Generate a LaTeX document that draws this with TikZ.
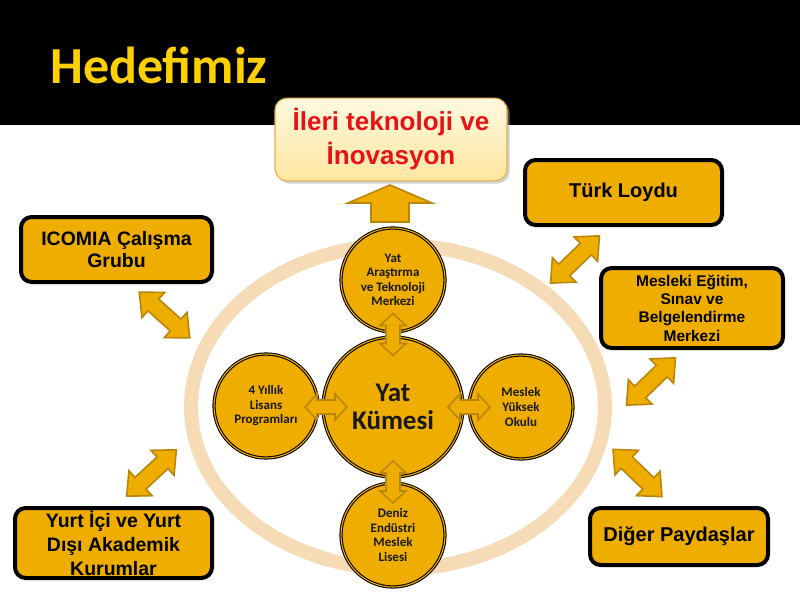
\documentclass[tikz,border=0pt]{standalone}
\usepackage{fontspec}
\setmainfont{Liberation Sans}
\newfontfamily\carl{Carlito}
\usetikzlibrary{calc,shadows,shapes.geometric}
\definecolor{gold}{RGB}{239,173,0}
\definecolor{arrbd}{RGB}{184,134,11}
\definecolor{ringc}{RGB}{246,220,182}
\definecolor{titlec}{RGB}{255,208,0}
\definecolor{topred}{RGB}{232,18,22}
\definecolor{creamA}{RGB}{255,249,224}
\definecolor{creamB}{RGB}{255,230,160}
\definecolor{creamBd}{RGB}{228,176,70}
\newcommand\dblarrow[6]{%
  \begin{scope}[shift={(#1)},rotate=#2]
    \pgfmathsetmacro\arrLa{#3/2}\pgfmathsetmacro\arrLb{#3/2-#6}
    \draw[blockarrow] (-\arrLa,0) -- (-\arrLb,#5) -- (-\arrLb,#4) -- (\arrLb,#4) -- (\arrLb,#5) -- (\arrLa,0)
      -- (\arrLb,-#5) -- (\arrLb,-#4) -- (-\arrLb,-#4) -- (-\arrLb,-#5) -- cycle;
  \end{scope}}
\tikzset{
  outerbox/.style={rectangle, rounded corners=8pt, fill=gold, draw=black, line width=3pt, inner sep=1pt, align=center, text=black},
  circ/.style={circle, fill=gold, draw=black, line width=0.8pt, double=gold, double distance=0.8pt, inner sep=0pt, align=center, text=black!90},
  smallc/.style={circ, minimum size=78pt, font=\carl\bfseries\fontsize{9.75pt}{10.9pt}\selectfont},
  blockarrow/.style={fill=gold, draw=arrbd, line width=1.2pt, line join=miter},
}
\begin{document}
\begin{tikzpicture}[x=0.75pt,y=-0.75pt]
\useasboundingbox (0,0) rectangle (800,600);
\fill[white] (0,0) rectangle (800,600);
\fill[black] (0,0) rectangle (800,125);
\node[anchor=base west, inner sep=0pt, text=titlec, font=\carl\bfseries\fontsize{39pt}{42pt}\selectfont] (title) at (50,83) {Hedefimiz};

% ring
\node[ellipse, draw=ringc, line width=10.5pt, minimum width=310.5pt, minimum height=243pt, inner sep=0pt] (ring) at (398,407) {};

% top box
\node[rectangle, rounded corners=9pt, top color=creamA, bottom color=creamB, draw=creamBd, line width=0.8pt,
      drop shadow={shadow xshift=2pt, shadow yshift=-2pt, fill=black!35},
      minimum width=174pt, minimum height=62pt, align=center, text=topred,
      font=\bfseries\fontsize{19.5pt}{25.5pt}\selectfont] (ileri) at (391,139.5) {İleri teknoloji ve\\İnovasyon};

% up arrow
\coordinate (up) at (390,203);
\begin{scope}[shift={(up)}]
  \draw[blockarrow] (0,-18) -- (42,0) -- (19,0) -- (19,19) -- (-19,19) -- (-19,0) -- (-42,0) -- cycle;
\end{scope}

% outer boxes
\node[outerbox, minimum width=147.75pt, minimum height=48.75pt, font=\bfseries\fontsize{15pt}{18pt}\selectfont] (turk) at (623.5,192.5) {Türk Loydu};
\node[outerbox, minimum width=136.5pt, minimum height=60pt, font=\bfseries\fontsize{11.6pt}{13.7pt}\selectfont] (mesleki) at (692,308) {Mesleki Eğitim,\\Sınav ve\\Belgelendirme\\Merkezi};
\node[outerbox, minimum width=143.25pt, minimum height=48.75pt, font=\bfseries\fontsize{14.6pt}{16.5pt}\selectfont] (icomia) at (116.5,249.5) {ICOMIA Çalışma\\Grubu};
\node[outerbox, minimum width=147.75pt, minimum height=52.5pt] (yurt) at (113.5,543) {};
\node[inner sep=0pt, align=center, font=\bfseries\fontsize{14.6pt}{18pt}\selectfont] (yurtt) at (113.5,543) {Yurt İçi ve Yurt\\Dışı Akademik\\Kurumlar};
\node[outerbox, minimum width=133.5pt, minimum height=42.75pt, font=\bfseries\fontsize{15pt}{18pt}\selectfont] (diger) at (679,536.5) {Diğer Paydaşlar};

% circles
\node[circ, minimum size=105pt, font=\carl\bfseries\fontsize{20.25pt}{21pt}\selectfont] (main) at (393,407) {Yat\\Kümesi};
\node[smallc] (ctop) at (393,280) {Yat\\Araştırma\\ve Teknoloji\\Merkezi};
\node[smallc] (cleft) at (266,406) {4 Yıllık\\Lisans\\Programları};
\node[smallc] (cright) at (521,407) {Meslek\\Yüksek\\Okulu};
\node[smallc] (cbot) at (393,535) {Deniz\\Endüstri\\Meslek\\Lisesi};

% inner arrows
\coordinate (sa1) at ($(ctop.south)!0.5!(main.north)$);
\coordinate (sa2) at (326,407);
\coordinate (sa3) at (469,407);
\coordinate (sa4) at ($(main.south)!0.5!(cbot.north)+(0,2)$);
\dblarrow{sa1}{90}{42}{7}{13}{12}
\dblarrow{sa2}{0}{42}{7}{13}{12}
\dblarrow{sa3}{0}{42}{7}{13}{12}
\dblarrow{sa4}{90}{42}{7}{13}{12}

% outer arrows
\coordinate (oa1) at (164.5,315);
\coordinate (oa2) at (575,259.5);
\coordinate (oa3) at (651,381.5);
\coordinate (oa4) at (151.5,473);
\coordinate (oa5) at (637.5,473);
\dblarrow{oa1}{-42}{68}{8}{17}{19}
\dblarrow{oa2}{44}{68}{8}{17}{19}
\dblarrow{oa3}{44}{68}{8}{17}{19}
\dblarrow{oa4}{43}{68}{8}{17}{19}
\dblarrow{oa5}{-44}{68}{8}{17}{19}
\end{tikzpicture}
\end{document}
